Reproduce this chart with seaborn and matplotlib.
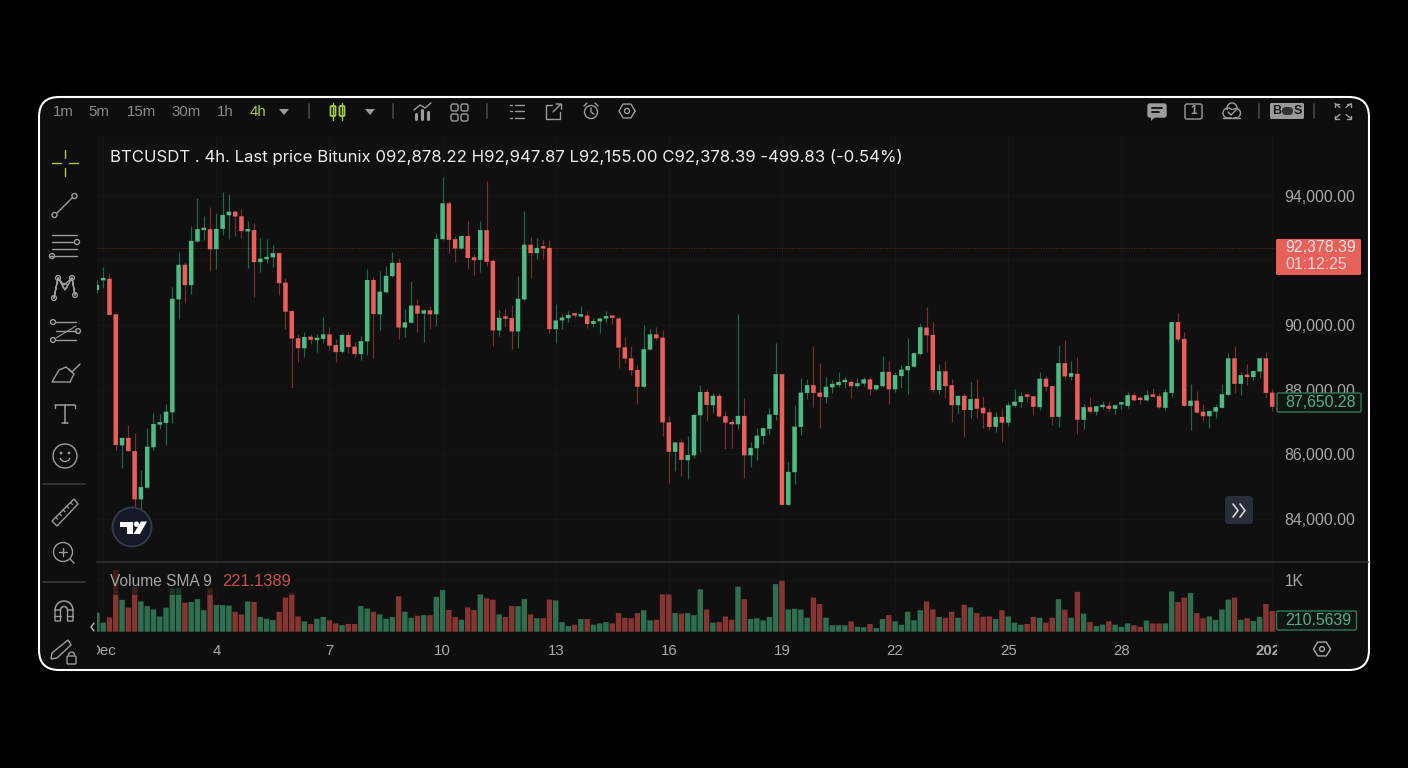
import numpy as np
import pandas as pd
import matplotlib
matplotlib.use("Agg")
import matplotlib.pyplot as plt
from matplotlib.patches import Circle, FancyBboxPatch, Polygon, Rectangle
import seaborn as sns

# candles are 4h, first one sits just left of the chart edge
opens = [91080,
    91380,91430,90330,86280,86510,86100,84610,84970,86220,86920,
    86970,87300,90790,91860,91230,92580,92930,92960,92340,92970,
    93390,93500,93360,92890,92930,91940,92030,92090,92220,91310,
    90430,89590,89280,89640,89530,89570,89710,89380,89170,89690,
    89330,89100,89490,91390,90330,91010,91510,91920,89920,90070,
    90600,90350,90450,90330,92650,93760,92650,92360,92750,92090,
    92010,92930,91980,89830,90240,90210,89800,90790,92480,92220,
    92400,92380,89870,90140,90210,90320,90260,90290,90030,90110,
    90200,90240,90200,89310,88970,88610,88090,89240,89710,89610,
    86990,86080,86370,85820,85970,87210,87930,87520,87810,87180,
    86980,86930,87190,85970,86190,86570,86790,87220,88480,84440,
    85450,86850,87900,88140,87910,87770,88070,88140,88230,88240,
    88110,88190,88320,88010,88110,88550,88010,88420,88600,88710,
    89100,89920,89690,87990,88570,88140,87520,87810,87370,87720,
    87440,87300,86850,87160,86980,87500,87620,87810,87800,87460,
    88340,88110,87160,88820,88400,88490,87070,87460,87320,87460,
    87500,87410,87540,87500,87830,87710,87670,87830,87800,87440,
    87900,90090,89570,87500,87660,87320,87180,87320,87440,87840,
    88970,88180,88460,88390,88560,88970,87910]
highs = [91390,
    91800,91600,90360,86530,86910,86650,85520,86830,87290,87250,
    87560,91180,92260,91950,93070,93910,93370,93650,93450,94110,
    94050,93550,93580,93220,93140,92680,92660,92460,92240,91440,
    90460,89720,89770,89720,89720,90260,89950,89570,89740,89770,
    89480,89670,91730,91470,91670,91810,92240,92080,90480,91360,
    90810,90490,90590,92850,94560,93820,92750,92770,93220,92190,
    93210,94450,92040,90450,90480,90620,91500,93520,92730,92680,
    92630,92630,90640,90340,90430,90380,90590,90430,90200,90220,
    90430,90290,90240,89640,89350,88760,89990,89880,89950,89840,
    87180,86390,86480,86580,87290,88140,88010,87890,87900,87340,
    87090,90330,87730,86370,86830,86860,87430,89430,88490,85770,
    87520,88350,88330,89350,88820,88390,88300,88540,88390,88300,
    88350,88380,88400,88150,89040,88880,88550,88760,89590,89150,
    90070,90540,90080,88790,88900,88340,87830,87910,88230,88330,
    87790,87430,87320,87440,87630,88020,87940,87820,87810,88550,
    88430,88120,89390,89530,88890,89020,87560,87760,87500,87650,
    87640,87560,87570,87940,87920,87800,87990,88050,87890,88020,
    90120,90360,89790,88170,87960,87560,87350,87560,88180,89120,
    89350,88540,88780,88590,88980,89160,88020]
lows = [90990,
    91130,90300,86140,85570,86090,84280,84230,84960,86140,86780,
    86300,86980,90180,90690,90950,92570,92630,91680,91740,92790,
    92650,92750,92700,91770,90850,91650,91920,91790,90930,89870,
    88040,88870,89000,89410,89170,89450,89230,88870,89120,89140,
    89020,88920,89070,88970,89840,91000,91470,89570,89640,90060,
    89770,89470,89880,89980,92640,92230,91950,92340,91740,91530,
    91650,91830,89360,89660,89940,89250,89300,90780,91440,92050,
    92040,89740,89430,89870,90090,90220,90250,89900,89950,89740,
    90070,90020,88660,88830,88450,87550,88040,89230,89540,86580,
    85110,85490,85340,85230,85900,86070,87020,87290,87150,86170,
    86200,86790,85270,85600,85820,86330,86640,87060,84430,84430,
    85080,86600,87700,87470,86810,87580,87910,88070,88060,87750,
    88060,88110,87830,88000,88090,87560,87920,88060,87860,88700,
    89070,89160,87920,87870,87750,87010,87250,86550,87110,87130,
    86820,86750,86680,86370,86880,87470,87470,87630,87220,87370,
    87950,86910,86860,88300,88300,86620,86780,87270,87220,87400,
    87330,87250,87390,87440,87650,87570,87660,87770,87440,87380,
    87780,89480,87490,86760,87270,87040,86810,87120,87430,87810,
    87910,87830,88130,88290,88350,87730,87350]
closes = [91240,
    91410,90310,86290,86510,86100,84610,84990,86240,86940,86980,
    87320,90810,91860,91230,92600,92960,92970,92340,92970,93400,
    93500,93350,92900,92960,91940,92050,92100,92220,91290,90410,
    89580,89280,89630,89540,89600,89710,89360,89160,89690,89320,
    89100,89500,91390,90340,91030,91520,91920,89920,90080,90600,
    90350,90450,90330,92660,93760,92630,92360,92750,92070,92000,
    92930,91950,89830,90220,90190,89800,90810,92480,92220,92380,
    92360,89870,90140,90230,90310,90290,90290,90030,90120,90200,
    90240,90220,89300,88960,88600,88090,89250,89710,89590,86990,
    86080,86370,85830,85980,87220,87930,87530,87810,87170,86980,
    86930,87190,85970,86200,86580,86810,87230,88480,84440,85460,
    86860,87910,88140,87900,87780,88090,88180,88240,88250,88110,
    88200,88320,88010,88140,88550,88010,88450,88620,88730,89130,
    89930,89680,87990,88570,88110,87520,87810,87370,87710,87410,
    87270,86850,87160,86980,87520,87630,87800,87780,87470,88340,
    88090,87160,88820,88410,88510,87070,87460,87320,87490,87500,
    87410,87520,87560,87830,87670,87680,87830,87780,87450,87920,
    90090,89550,87500,87660,87290,87180,87340,87460,87860,88970,
    88180,88450,88390,88580,88970,87900,87470]
volumes = [370,
    175,275,1195,615,465,870,585,495,430,295,
    465,840,840,560,575,630,415,840,515,515,
    505,385,335,585,575,285,250,225,385,660,
    755,295,200,150,250,285,220,160,125,150,
    150,495,450,385,335,250,285,685,385,270,
    310,320,320,675,805,420,285,230,470,420,
    720,645,620,335,285,495,495,630,335,260,
    260,620,605,185,110,135,245,245,135,160,
    185,160,360,270,260,360,415,220,230,720,
    720,360,350,360,320,820,430,175,185,295,
    230,870,630,245,260,220,285,920,985,430,
    445,430,270,660,535,270,125,125,125,200,
    95,85,150,70,245,320,200,135,385,220,
    415,585,430,285,270,385,270,520,470,360,
    290,295,245,415,295,175,135,150,285,270,
    175,270,630,425,270,770,350,185,110,135,
    200,135,95,160,125,95,215,160,160,160,
    780,575,660,750,360,260,295,230,430,620,
    660,230,260,205,285,535,400]

price_ticks = [84000, 86000, 88000, 90000, 92000, 94000]
time_ticks = [0, 18, 36, 54, 72, 90, 108, 126, 144, 162, 186]
time_labels = ["Dec", "4", "7", "10", "13", "16", "19", "22", "25", "28", "2026"]
last_price = 92378.39
header = "BTCUSDT . 4h. Last price Bitunix 092,878.22 H92,947.87 L92,155.00 C92,378.39 -499.83 (-0.54%)"
intervals = ["1m", "5m", "15m", "30m", "1h", "4h"]

UP, DOWN = "#4dbb85", "#ea5f59"
UP_WICK, DOWN_WICK = "#22684a", "#772f2d"
UP_VOL, DOWN_VOL = "#2e6f50", "#853633"
BG = "#101010"
ICON = "#9c9c9c"
LIME = "#a9cb3f"

sns.set_theme(style="dark", rc={"axes.facecolor": BG, "figure.facecolor": "black"})
plt.rcParams["font.family"] = ["Liberation Sans", "DejaVu Sans"]

df = pd.DataFrame({"i": np.arange(len(opens)) - 1, "open": opens, "high": highs,
                   "low": lows, "close": closes, "volume": volumes})
df["dir"] = np.where(df.close >= df.open, "up", "down")
df["base"] = df[["open", "close"]].min(axis=1)
df["body"] = (df.close - df.open).abs().clip(lower=75)

W, H = 1408, 768
fig = plt.figure(figsize=(W / 100, H / 100), dpi=100)


def pane(left, top, right, bottom, **kw):
    return fig.add_axes([left / W, 1 - bottom / H, (right - left) / W, (bottom - top) / H], **kw)


back = pane(0, 0, W, H, zorder=0)
back.set_xlim(0, W)
back.set_ylim(H, 0)
back.axis("off")
back.add_patch(FancyBboxPatch((39, 97), 1330, 573, boxstyle="round,pad=0,rounding_size=20",
                              fc="#0e0e0e", ec="none"))

ax = pane(97, 135, 1275, 562, zorder=1)
vax = pane(97, 562, 1275, 631.7, zorder=1)
ax.set_facecolor(BG)
vax.set_facecolor(BG)

# price pane
for d, body_col, wick_col in [("up", UP, UP_WICK), ("down", DOWN, DOWN_WICK)]:
    sub = df[df.dir == d]
    ax.vlines(sub.i, sub.low, sub.high, color=wick_col, lw=0.85, zorder=1.5)
    sns.barplot(x=sub.i.values, y=sub.body.values, bottom=sub.base.values, native_scale=True,
                color=body_col, saturation=1, width=0.72, errorbar=None, linewidth=0,
                zorder=2, snap=False, ax=ax)
ax.axhline(last_price, color="#5c2623", lw=0.8, ls=(0, (1, 1.2)), zorder=1.2)

# volume pane
sns.barplot(data=df, x="i", y="volume", hue="dir", palette={"up": UP_VOL, "down": DOWN_VOL},
            native_scale=True, dodge=False, saturation=1, width=0.86, errorbar=None,
            linewidth=0, legend=False, zorder=2, snap=False, ax=vax)

x_left, x_right = (97 - 103.2) / 6.285, (1275 - 103.2) / 6.285
for a in (ax, vax):
    a.set_xlim(x_left, x_right)
    a.set_xlabel("")
    a.set_ylabel("")
    a.set_xticks(time_ticks)
    a.grid(True, color="#151515", lw=0.8)
    a.set_axisbelow(True)
    a.yaxis.tick_right()
    for s in a.spines.values():
        s.set_visible(False)

ax.set_ylim(82675, 95870)
ax.set_yticks(price_ticks)
# 92,000.00 sits behind the red last price tag in the reference
ax.set_yticklabels(["" if p == 92000 else f"{p:,.2f}" for p in price_ticks],
                   color="#a8a8a8", fontsize=11.4)
ax.tick_params(axis="y", length=0, pad=7)
ax.tick_params(axis="x", length=0, labelbottom=False)

vax.set_ylim(0, 1348)
vax.set_yticks([1000])
vax.set_yticklabels(["1K"], color="#a8a8a8", fontsize=11.2)
vax.tick_params(axis="y", length=0, pad=7)
vax.set_xticklabels(time_labels, color="#a8a8a8", fontsize=10.8)
vax.tick_params(axis="x", length=0, pad=8.5)
vax.get_xticklabels()[-1].set_fontweight("bold")

# chrome, in pixel coordinates
top = pane(0, 0, W, H, zorder=3)
top.set_xlim(0, W)
top.set_ylim(H, 0)
top.axis("off")
top.patch.set_alpha(0)


def line(xs, ys, c=ICON, lw=1.0):
    top.plot(xs, ys, color=c, lw=lw, solid_capstyle="round", solid_joinstyle="round")


def ring(x, y, r, c=ICON, lw=1.0, fc="none"):
    top.add_patch(Circle((x, y), r, fc=fc, ec=c, lw=lw))


def box(x, y, w, h, fc="none", ec=ICON, lw=1.0, r=2):
    top.add_patch(FancyBboxPatch((x, y), w, h, boxstyle=f"round,pad=0,rounding_size={r}",
                                 fc=fc, ec=ec, lw=lw))


def tri(x, y):
    top.add_patch(Polygon([(x - 5, y - 3), (x + 5, y - 3), (x, y + 3)], fc=ICON, ec="none"))


def label(x, y, s, c="#a8a8a8", size=11, ha="center", **kw):
    top.text(x, y, s, color=c, fontsize=size, ha=ha, va="center", **kw)


# masks for the clipped time labels
top.add_patch(Rectangle((60, 640), 37, 20, fc="#0e0e0e", ec="none"))
top.add_patch(Rectangle((1277, 640), 30, 20, fc="#0e0e0e", ec="none"))

# pane divider
line([97, 1368], [562, 562], c="#2b2b2b", lw=1.4)

# top toolbar
for x, s in zip([63, 99, 141, 186, 225, 258], intervals):
    label(x, 111.5, s, c=LIME if s == "4h" else "#8a8a8a", size=10.8)
tri(284, 112)
tri(370, 112)
for x in [309, 393, 487, 1259, 1314]:
    line([x, x], [104, 118], c="#444444", lw=1.2)
for x, y0, y1 in [(333, 107, 115), (342, 107, 115)]:
    line([x, x], [103, 120], c=LIME, lw=1)
    box(x - 2.5, y0 - 1, 5, y1 - y0 + 2, ec=LIME, lw=1.3, r=1)
line([414, 420, 425, 431], [110, 105, 108, 103])
for x, h in [(416, 5), (422, 9), (428, 7)]:
    line([x, x], [119, 119 - h], lw=2.2)
for x in [451, 461]:
    for y in [104, 114]:
        box(x, y, 7, 7)
for y in [105, 111, 118]:
    line([510, 512], [y, y])
    line([515, 524], [y, y])
line([552, 546, 546, 560, 560], [105, 105, 119, 119, 112])
line([553, 561, 556], [112, 104, 104])
line([561, 561], [104, 109])
ring(591, 112, 6.5)
line([591, 591, 594], [108, 112, 114])
line([584, 587], [106, 103])
line([598, 595], [106, 103])
ring(627, 111, 2.5)
hex_x = 627 + 8 * np.cos(np.arange(7) * np.pi / 3)
hex_y = 111 + 8 * np.sin(np.arange(7) * np.pi / 3)
line(hex_x, hex_y)
box(1148, 104, 18, 13, fc=ICON, ec=ICON, r=2)
top.add_patch(Polygon([(1151, 116), (1156, 116), (1151, 121)], fc=ICON, ec="none"))
line([1152, 1162], [108, 108], c="#0e0e0e", lw=1.3)
line([1152, 1159], [112, 112], c="#0e0e0e", lw=1.3)
box(1185, 104, 17, 15)
label(1193.5, 111.5, "1", c=ICON, size=8.5, fontweight="bold")
ring(1228, 113, 5)
ring(1236, 113, 4.5)
ring(1232, 108, 5)
top.add_patch(Rectangle((1226, 110), 12, 6.5, fc="#0e0e0e", ec="none"))
line([1223, 1240], [118, 118])
line([1228, 1231, 1236], [112, 115, 110])
box(1270, 103, 34, 16, fc="#9a9a9a", ec="none", r=1.5)
label(1277, 111.5, "B", c="#1a1a1a", size=9, fontweight="bold")
label(1298, 111.5, "S", c="#1a1a1a", size=9, fontweight="bold")
top.add_patch(FancyBboxPatch((1282, 107), 11, 8, boxstyle="round,pad=0,rounding_size=4", fc="#333333", ec="none"))
for sx, sy in [(-1, -1), (1, -1), (-1, 1), (1, 1)]:
    cx, cy = 1343 + sx * 8, 111 + sy * 7.5
    line([cx, cx - sx * 5], [cy, cy - sy * 4])
    line([cx - sx * 4, cx, cx], [cy, cy, cy - sy * 3])

# left toolbar
line([65, 65], [150, 158], c=LIME)
line([65, 65], [168, 176], c=LIME)
line([52, 61], [163, 163], c=LIME)
line([69, 78], [163, 163], c=LIME)
line([57, 72], [213, 198])
ring(54.5, 215, 2.5)
ring(74.5, 196, 2.5)
for y, x0, x1 in [(235, 52, 77), (242, 52, 73), (249, 52, 77), (256, 50, 77)]:
    line([x0, x1], [y, y])
ring(77, 242, 2.5)
ring(52, 256, 2.5)
net_x = [54, 58, 65, 72, 75, 72, 64, 58, 54]
net_y = [298, 278, 290, 278, 295, 278, 285, 278, 298]
line(net_x, net_y)
for x, y in [(54, 298), (58, 278), (72, 278), (75, 295), (65, 286)]:
    ring(x, y, 2.4)
for y, x0, x1 in [(322, 56, 76), (331, 56, 76), (340, 56, 76)]:
    line([x0, x1], [y, y])
ring(53, 322, 2.4)
ring(53, 340, 2.4)
ring(78, 331, 2.4)
line([56, 76], [338, 326], lw=0.8)
top.add_patch(Polygon([(52, 382), (70, 382), (74, 374), (66, 367), (59, 370)], fc="none", ec=ICON, lw=1.0))
line([69, 72, 80], [369, 372, 364])
line([55, 75], [405, 405], lw=1.1)
line([65, 65], [405, 423], lw=1.1)
line([62, 68], [423, 423], lw=1.1)
line([55, 55], [405, 408])
line([75, 75], [405, 408])
ring(65, 456, 12)
ring(61, 453, 0.7, fc=ICON)
ring(69, 453, 0.7, fc=ICON)
top.plot(65 + 5 * np.cos(np.linspace(0.3, 2.84, 12)), 457 + 4.5 * np.sin(np.linspace(0.3, 2.84, 12)),
         color=ICON, lw=1.0)
for y in [484, 582]:
    line([43, 85], [y, y], c="#3a3a3a", lw=1.2)
top.add_patch(Polygon([(52, 521), (74, 499), (78, 504), (57, 526)], fc="none", ec=ICON, lw=1.0))
for k in range(1, 6):
    x0, y0 = 52 + k * 3.7, 521 - k * 3.7
    line([x0, x0 + 2], [y0, y0 + 2], lw=0.9)
ring(63, 552, 9.5)
line([70, 74], [559, 563])
line([59, 67], [552, 552])
line([63, 63], [548, 556])
top.plot(64 + 9 * np.cos(np.linspace(np.pi, 2 * np.pi, 16)), 610 + 9 * np.sin(np.linspace(np.pi, 2 * np.pi, 16)),
         color=ICON, lw=1.1)
top.plot(64 + 3.5 * np.cos(np.linspace(np.pi, 2 * np.pi, 16)), 610 + 3.5 * np.sin(np.linspace(np.pi, 2 * np.pi, 16)),
         color=ICON, lw=1.1)
for x0, x1 in [(55, 60.5), (67.5, 73)]:
    box(x0, 610, x1 - x0, 11, r=0.5)
    line([x0, x1], [616, 616])
top.add_patch(Polygon([(52, 653), (68, 640), (71, 645), (57, 658), (51, 659)], fc="none", ec=ICON, lw=1.0))
box(67, 656, 9, 8, r=1)
top.plot(71.5 + 3 * np.cos(np.linspace(np.pi, 2 * np.pi, 10)), 655 + 3 * np.sin(np.linspace(np.pi, 2 * np.pi, 10)),
         color=ICON, lw=1.0)

# bottom corner bits
line([94, 91, 94], [623, 627, 631], c="#bdbdbd", lw=1)
rx = 1322 + 8.5 * np.cos(np.arange(7) * np.pi / 3)
ry = 649 + 8 * np.sin(np.arange(7) * np.pi / 3)
line(rx, ry, c="#a8a8a8")
ring(1322, 649, 2.4, c="#a8a8a8")

# header and legends
label(110, 157, header, c="#eeeeee", size=12.07, ha="left", family=["Inter", "DejaVu Sans"])
top.add_patch(Rectangle((105, 569), 190, 26, fc=BG, ec="none", alpha=0.62))
label(110, 582, "Volume SMA 9", c="#a5a5a5", size=11.2, ha="left")
label(222, 582, "221.1389", c="#c94f49", size=11.9, ha="left")

# value tags
box(1276, 239, 85, 36, fc="#e8605a", ec="none", r=1.5)
label(1320.5, 248, "92,378.39", c="#fbe4e2", size=11.4)
label(1316, 264.5, "01:12:25", c="#fbd5d2", size=11.4)
box(1277, 393, 84, 19, fc="#0e1512", ec="#2e7a57", r=1.5)
label(1320, 402.5, "87,650.28", c="#4db184", size=11.4)
box(1276.5, 611, 80, 19, fc="#0e1512", ec="#2e7a57", r=1.5)
label(1318, 620.5, "210.5639", c="#4db184", size=11.4)

# tradingview badge and go-to-end button
ring(132, 527, 19.5, c="#383c4a", lw=1.3, fc="#151826")
top.add_patch(Polygon([(120, 521.5), (133, 521.5), (133, 534), (127, 534), (127, 527), (120, 527)], fc="white", ec="none"))
ring(136.5, 524.2, 2.7, c="white", lw=0, fc="white")
top.add_patch(Polygon([(141, 521.5), (147, 521.5), (140, 534), (133.5, 534)], fc="white", ec="none"))
box(1225, 496, 28, 28, fc="#2a2e3a", ec="none", r=4)
line([1233, 1238, 1233], [504, 510.5, 517], c="#d8d8d8", lw=1.2)
line([1240, 1245, 1240], [504, 510.5, 517], c="#d8d8d8", lw=1.2)

# outer frame
top.add_patch(FancyBboxPatch((39, 97), 1330, 573, boxstyle="round,pad=0,rounding_size=20",
                             fc="none", ec="white", lw=1.5))

fig.savefig("out.png", dpi=100, facecolor="black")
